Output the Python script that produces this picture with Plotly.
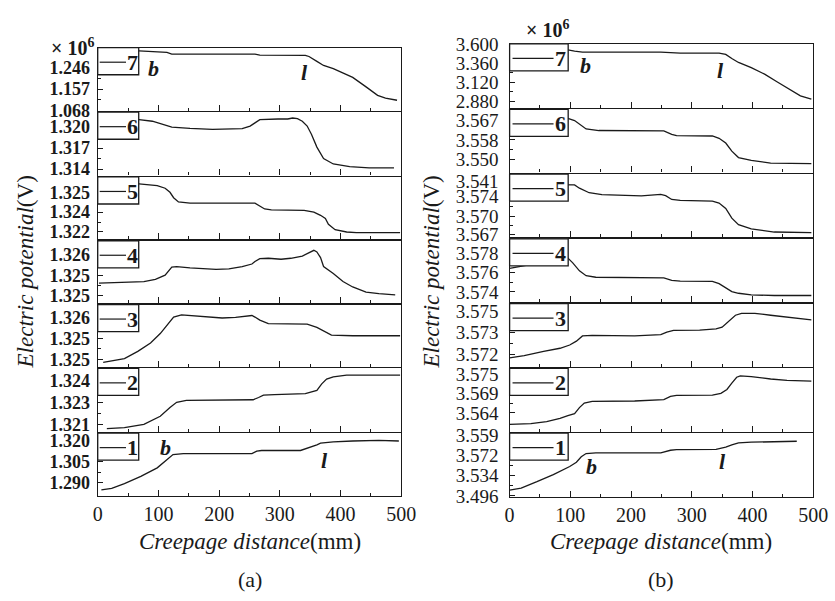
import plotly.graph_objects as go

W, H = 835, 601
FONT = "Liberation Serif, Times New Roman, serif"
INK = "#1a1a1a"
LW = 1.4

# ---------------- Panel (a) data (curves 7 .. 1, top to bottom) ----------------
a7_x = [0, 68, 114, 122, 259, 267, 342, 348, 361, 372, 388, 420, 442, 461, 474, 493]
a7_y = [1.314, 1.314, 1.308, 1.301, 1.301, 1.297, 1.296, 1.291, 1.271, 1.254, 1.241, 1.205, 1.166, 1.131, 1.120, 1.111]

a6_x = [0, 68, 90, 106, 122, 152, 189, 238, 251, 259, 267, 297, 313, 321, 329, 337, 345, 352, 361, 372, 388, 415, 447, 488]
a6_y = [1.32106, 1.32106, 1.32083, 1.32046, 1.32000, 1.31981, 1.31968, 1.31977, 1.32014, 1.32060, 1.32106, 1.32115,
        1.32115, 1.32129, 1.32120, 1.32083, 1.32014, 1.31898, 1.31714, 1.31552, 1.31474, 1.31437, 1.31418, 1.31418]

a5_x = [0, 68, 98, 111, 119, 125, 133, 152, 259, 267, 275, 286, 340, 356, 367, 375, 380, 391, 410, 426, 498]
a5_y = [1.32563, 1.32563, 1.32551, 1.32531, 1.32500, 1.32459, 1.32427, 1.32418, 1.32418, 1.32398, 1.32374, 1.32367,
        1.32364, 1.32350, 1.32326, 1.32302, 1.32258, 1.32217, 1.32200, 1.32195, 1.32195]

a4_x = [2, 44, 76, 95, 111, 122, 130, 152, 195, 216, 238, 254, 259, 267, 281, 302, 318, 337, 348, 356, 361, 367, 372,
        388, 404, 420, 442, 463, 490]
a4_y = [1.325310, 1.325326, 1.325349, 1.325403, 1.325504, 1.325698, 1.325713, 1.325682, 1.325643, 1.325659, 1.325713,
        1.325775, 1.325837, 1.325907, 1.325915, 1.325891, 1.325915, 1.325969, 1.326047, 1.326109, 1.326070, 1.325930,
        1.325713, 1.325543, 1.325349, 1.325217, 1.325093, 1.325054, 1.325023]

a3_x = [9, 44, 66, 87, 103, 117, 125, 138, 162, 205, 227, 254, 259, 267, 281, 313, 345, 361, 375, 385, 420, 498]
a3_y = [1.324925, 1.325015, 1.325187, 1.325388, 1.325612, 1.325858, 1.326007, 1.326060, 1.326030, 1.325985, 1.326000,
        1.326045, 1.326007, 1.325933, 1.325851, 1.325851, 1.325836, 1.325761, 1.325649, 1.325575, 1.325560, 1.325560]

a2_x = [15, 44, 76, 103, 119, 130, 146, 205, 256, 265, 273, 291, 342, 361, 369, 377, 388, 410, 498]
a2_y = [1.320713, 1.320779, 1.321000, 1.321552, 1.322147, 1.322500, 1.322632, 1.322655, 1.322677, 1.322831, 1.322985,
        1.323030, 1.323096, 1.323316, 1.323758, 1.324088, 1.324243, 1.324353, 1.324353]

a1_x = [6, 23, 44, 71, 98, 111, 117, 124, 141, 254, 262, 270, 334, 351, 361, 367, 388, 420, 463, 496]
a1_y = [1.28485, 1.28597, 1.28933, 1.29448, 1.30052, 1.30500, 1.30769, 1.30993, 1.31060, 1.31060, 1.31239, 1.31284,
        1.31284, 1.31508, 1.31687, 1.31799, 1.31888, 1.31955, 1.32000, 1.31955]

# y ranges / tick values / tick labels for panel (a)
a_ranges = [[1.0675, 1.3272], [1.31308, 1.32212], [1.32144, 1.32616], [1.324822, 1.326341],
            [1.324813, 1.326306], [1.320493, 1.324816], [1.28037, 1.32515]]
a_tickvals = [[1.068, 1.157, 1.246], [1.314, 1.317, 1.320], [1.3220, 1.3235, 1.3250], [1.3250, 1.3255, 1.3260],
              [1.3250, 1.3255, 1.3260], [1.3210, 1.3225, 1.3240], [1.290, 1.305, 1.320]]
a_ticktext = [["1.068", "1.157", "1.246"], ["1.314", "1.317", "1.320"], ["1.322", "1.324", "1.325"],
              ["1.325", "1.325", "1.326"], ["1.325", "1.325", "1.326"], ["1.321", "1.323", "1.324"],
              ["1.290", "1.305", "1.320"]]

# ---------------- Panel (b) data ----------------
b7_x = [0, 96, 107, 120, 249, 281, 345, 356, 366, 377, 398, 420, 441, 463, 479, 497]
b7_y = [3.5268, 3.5268, 3.5105, 3.4983, 3.4983, 3.4861, 3.4861, 3.4699, 3.4170, 3.3682, 3.3031, 3.2217, 3.1241,
        3.0183, 2.9492, 2.9085]

b6_x = [0, 96, 107, 115, 126, 147, 254, 267, 275, 334, 345, 356, 366, 377, 398, 430, 497]
b6_y = [3.56783, 3.56783, 3.56686, 3.56518, 3.56323, 3.56254, 3.56240, 3.56087, 3.56031, 3.56017, 3.55919, 3.55710,
        3.55362, 3.55084, 3.54958, 3.54847, 3.54819]

b5_x = [0, 99, 107, 115, 131, 152, 217, 249, 257, 267, 281, 334, 345, 356, 366, 377, 398, 436, 497]
b5_y = [3.57521, 3.57521, 3.57511, 3.57458, 3.57384, 3.57353, 3.57332, 3.57358, 3.57337, 3.57274, 3.57258, 3.57247,
        3.57216, 3.57126, 3.56968, 3.56863, 3.56795, 3.56742, 3.56732]

b4_x = [0, 13, 27, 45, 78, 94, 96, 104, 115, 126, 142, 254, 267, 281, 334, 345, 356, 366, 377, 398, 436, 497]
b4_y = [3.576467, 3.576600, 3.576767, 3.576867, 3.577200, 3.577533, 3.577533, 3.577033, 3.576200, 3.575700, 3.575533,
        3.575467, 3.575200, 3.575133, 3.575100, 3.574867, 3.574467, 3.574033, 3.573867, 3.573700, 3.573633, 3.573633]

b3_x = [0, 24, 56, 83, 99, 110, 120, 136, 206, 249, 259, 270, 313, 340, 350, 361, 372, 382, 404, 430, 463, 497]
b3_y = [3.571727, 3.571886, 3.572182, 3.572409, 3.572636, 3.572909, 3.573273, 3.573318, 3.573273, 3.573364, 3.573545,
        3.573659, 3.573682, 3.573773, 3.573886, 3.574273, 3.574727, 3.574864, 3.574864, 3.574727, 3.574568, 3.574409]

b2_x = [0, 35, 61, 83, 96, 107, 115, 123, 136, 206, 254, 265, 275, 334, 348, 358, 366, 374, 380, 398, 430, 457, 497]
b2_y = [3.5607, 3.5609, 3.5615, 3.5624, 3.5632, 3.5638, 3.5655, 3.5668, 3.5673, 3.5674, 3.5678, 3.5687, 3.5690,
        3.5691, 3.5696, 3.5707, 3.5725, 3.5742, 3.5746, 3.5744, 3.5737, 3.5733, 3.5731]

b1_x = [0, 19, 45, 72, 99, 110, 118, 126, 142, 249, 265, 275, 340, 356, 366, 377, 398, 436, 473]
b1_y = [3.5069, 3.5105, 3.5225, 3.5358, 3.5509, 3.5587, 3.5690, 3.5750, 3.5762, 3.5762, 3.5811, 3.5823, 3.5829,
        3.5871, 3.5913, 3.5949, 3.5961, 3.5973, 3.5979]

b_ranges = [[2.7986, 3.6015], [3.54429, 3.57173], [3.56653, 3.57689], [3.572933, 3.579533],
            [3.571091, 3.575546], [3.55859, 3.57674], [3.4936, 3.6130]]
b_tickvals = [[2.880, 3.120, 3.360, 3.600], [3.550, 3.5585, 3.567], [3.5670, 3.5700, 3.5733, 3.5757],
              [3.574, 3.576, 3.578], [3.572, 3.5735, 3.575], [3.564, 3.5695, 3.575],
              [3.496, 3.534, 3.572, 3.6082]]
b_ticktext = [["2.880", "3.120", "3.360", "3.600"], ["3.550", "3.558", "3.567"],
              ["3.567", "3.570", "3.574", "3.541"], ["3.574", "3.576", "3.578"],
              ["3.572", "3.573", "3.575"], ["3.564", "3.569", "3.575"],
              ["3.496", "3.534", "3.572", "3.559"]]

curve_labels = ["7", "6", "5", "4", "3", "2", "1"]
x_ticks = [0, 100, 200, 300, 400, 500]
x_minor = [50, 150, 250, 350, 450]

a_series = [(a7_x, a7_y), (a6_x, a6_y), (a5_x, a5_y), (a4_x, a4_y), (a3_x, a3_y), (a2_x, a2_y), (a1_x, a1_y)]
b_series = [(b7_x, b7_y), (b6_x, b6_y), (b5_x, b5_y), (b4_x, b4_y), (b3_x, b3_y), (b2_x, b2_y), (b1_x, b1_y)]

panels = [
    dict(series=a_series, ranges=a_ranges, tv=a_tickvals, tt=a_ticktext, x0=95, x1=406, top=39, bottom=503,
         bold=True, tfs=18, standoff=3, boxw=42, line0=2, line1=29, numx=36),
    dict(series=b_series, ranges=b_ranges, tv=b_tickvals, tt=b_ticktext, x0=517, x1=828, top=35, bottom=504,
         bold=False, tfs=19, standoff=6, boxw=60, line0=3, line1=45, numx=52),
]

fig = go.Figure()
layout = {}
shapes = []
annotations = []
n = 0
for p in panels:
    pw = p["x1"] - p["x0"]
    hh = (p["bottom"] - p["top"]) / 7.0
    for k, (xs, ys) in enumerate(p["series"]):
        n += 1
        xa = "x" if n == 1 else f"x{n}"
        ya = "y" if n == 1 else f"y{n}"
        xk = "xaxis" if n == 1 else f"xaxis{n}"
        yk = "yaxis" if n == 1 else f"yaxis{n}"
        fig.add_trace(go.Scatter(x=xs, y=ys, mode="lines", line=dict(color=INK, width=1.3),
                                 xaxis=xa, yaxis=ya, showlegend=False, hoverinfo="skip"))
        # inner separators: shrink each sub-plot by half a line width so that
        # neighbouring frame lines fall on top of each other
        ytop = round(p["top"] + k * hh) + (LW / 2 if k > 0 else 0)
        ybot = round(p["top"] + (k + 1) * hh) - (LW / 2 if k < 6 else 0)
        h = ybot - ytop
        tv = p["tv"][k]
        tvs = sorted(tv)
        minor_y = [(tvs[i] + tvs[i + 1]) / 2 for i in range(len(tvs) - 1)]
        layout[xk] = dict(domain=[p["x0"] / W, p["x1"] / W], range=[0, 500], anchor=ya,
                          showline=True, mirror=True, linecolor=INK, linewidth=LW,
                          ticks="inside", ticklen=6, tickwidth=1.3, tickcolor=INK,
                          tickmode="array", tickvals=x_ticks, showticklabels=(k == 6),
                          tickfont=dict(family=FONT, size=20, color=INK),
                          showgrid=False, zeroline=False, fixedrange=True,
                          minor=dict(tickmode="array", tickvals=x_minor, ticks="inside", ticklen=3,
                                     tickwidth=1.1, tickcolor=INK, showgrid=False))
        tf = dict(family=FONT, size=p["tfs"], color=INK)
        layout[yk] = dict(domain=[1 - ybot / H, 1 - ytop / H], range=p["ranges"][k], anchor=xa,
                          showline=True, mirror=True, linecolor=INK, linewidth=LW,
                          ticks="inside", ticklen=5, tickwidth=1.3, tickcolor=INK,
                          tickmode="array", tickvals=tv,
                          ticktext=[f"<b>{t}</b>" if p["bold"] else t for t in p["tt"][k]],
                          tickfont=tf, ticklabelstandoff=p["standoff"],
                          showgrid=False, zeroline=False, fixedrange=True,
                          minor=dict(tickmode="array", tickvals=minor_y, ticks="inside", ticklen=3,
                                     tickwidth=1.1, tickcolor=INK, showgrid=False))
        # legend-like box with sample line and curve number
        shapes.append(dict(type="rect", xref=f"{xa} domain", yref=f"{ya} domain",
                           x0=0, x1=p["boxw"] / pw, y0=1 - 28 / h, y1=1,
                           fillcolor="white", line=dict(color=INK, width=1.3), layer="above"))
        shapes.append(dict(type="line", xref=f"{xa} domain", yref=f"{ya} domain",
                           x0=p["line0"] / pw, x1=p["line1"] / pw, y0=1 - 15 / h, y1=1 - 15 / h,
                           line=dict(color=INK, width=1.2), layer="above"))
        annotations.append(dict(xref=f"{xa} domain", yref=f"{ya} domain", x=p["numx"] / pw, y=1 - 15 / h,
                                text=f"<b>{curve_labels[k]}</b>", showarrow=False, xanchor="center",
                                yanchor="middle", font=dict(family=FONT, size=22, color=INK)))


def pa(text, px, py, size, **kw):
    d = dict(xref="paper", yref="paper", x=px / W, y=1 - py / H, text=text, showarrow=False,
             xanchor="center", yanchor="middle", font=dict(family=FONT, size=size, color=INK))
    d.update(kw)
    return d


# b / l markers
marks = [("b", 152, 60), ("l", 307, 65), ("b", 164, 453), ("l", 327, 466),
         ("b", 595, 57), ("l", 733, 63), ("b", 601, 472), ("l", 735, 467)]
for t, px, py in marks:
    annotations.append(pa(f"<b><i>{t}</i></b>", px, py, 22))

# multipliers
annotations.append(pa("<b>× 10<sup>6</sup></b>", 69, 38, 20))
annotations.append(pa("<b>× 10<sup>6</sup></b>", 556, 20, 20))

# axis titles
for cx in (251, 672):
    annotations.append(pa("<i>Creepage distance</i>(mm)", cx, 550, 23))
for cx in (22, 437):
    annotations.append(pa("<i>Electric potential</i>(V)", cx, 271, 23, textangle=-90))
annotations.append(pa("(a)", 251, 589, 22))
annotations.append(pa("(b)", 672, 589, 22))

fig.update_layout(width=W, height=H, margin=dict(l=0, r=0, t=0, b=0),
                  paper_bgcolor="white", plot_bgcolor="white", showlegend=False,
                  shapes=shapes, annotations=annotations, **layout)

fig.write_html("out.html")
